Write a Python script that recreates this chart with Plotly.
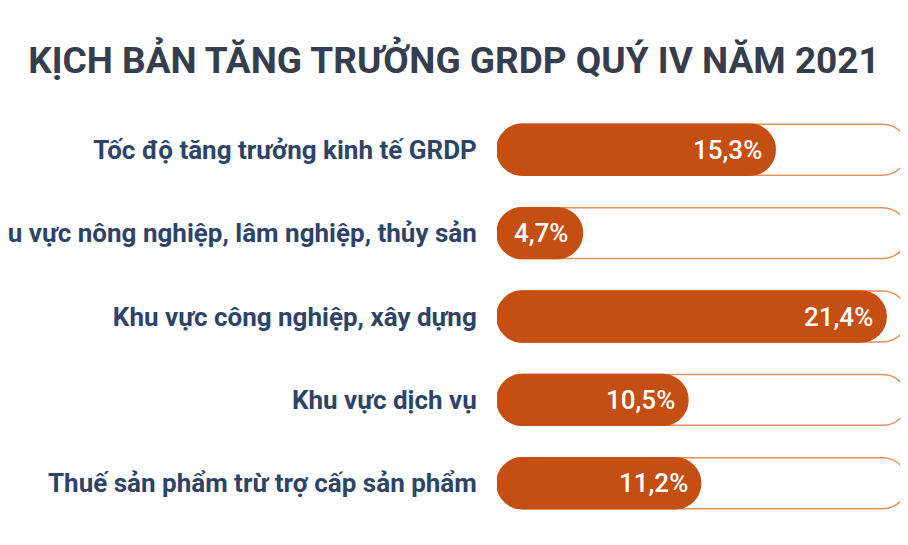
import plotly.graph_objects as go

categories = [
    "Tốc độ tăng trưởng kinh tế GRDP",
    "Khu vực nông nghiệp, lâm nghiệp, thủy sản",
    "Khu vực công nghiệp, xây dựng",
    "Khu vực dịch vụ",
    "Thuế sản phẩm trừ trợ cấp sản phẩm",
]
values = [15.3, 4.7, 21.4, 10.5, 11.2]
value_labels = ["15,3%", "4,7%", "21,4%", "10,5%", "11,2%"]
TRACK_MAX = 22.6

ORANGE = "#C54F12"
TRACK_LINE = "#E3915F"
FONT = "Roboto, Liberation Sans, sans-serif"
BAR_W = 0.61

# the page body adds an 8px offset, so the figure is 8px smaller than the window
W, H = 900, 537

fig = go.Figure()
# background track (floating bars with a base get both ends rounded)
fig.add_trace(go.Bar(
    y=categories, x=[TRACK_MAX] * len(values), base=[0] * len(values), orientation="h",
    width=BAR_W, marker=dict(color="white", line=dict(color=TRACK_LINE, width=1.5),
                             cornerradius="50%"),
    hoverinfo="skip", showlegend=False,
))
# value bar
fig.add_trace(go.Bar(
    y=categories, x=values, base=[0] * len(values), orientation="h",
    width=BAR_W, marker=dict(color=ORANGE, line=dict(color=ORANGE, width=1.5),
                             cornerradius="50%"),
    showlegend=False,
))

for c, v, t in zip(categories, values, value_labels):
    fig.add_annotation(x=v, y=c, text=t, showarrow=False, xanchor="right",
                       yanchor="middle", xshift=-11,
                       font=dict(family=FONT, size=26, color="white", weight=500))

fig.update_layout(
    width=W, height=H,
    margin=dict(l=489, r=0, t=100, b=20, autoexpand=False),
    paper_bgcolor="white", plot_bgcolor="white",
    barmode="overlay",
    title=dict(text="KỊCH BẢN TĂNG TRƯỞNG GRDP QUÝ IV NĂM 2021",
               x=446 / W, xanchor="center", xref="container", yref="container",
               y=1 - 52 / H, yanchor="middle",
               font=dict(family=FONT, size=37, color="#363E4D", weight="bold")),
    xaxis=dict(range=[0, TRACK_MAX], visible=False, fixedrange=True, automargin=False),
    yaxis=dict(type="category", range=[4.5, -0.5], showgrid=False, zeroline=False,
               showline=False, ticks="outside", ticklen=14, tickcolor="rgba(0,0,0,0)",
               automargin=False,
               tickfont=dict(family=FONT, size=26, color="#2E4466", weight="bold")),
)

fig.write_html("out.html")
